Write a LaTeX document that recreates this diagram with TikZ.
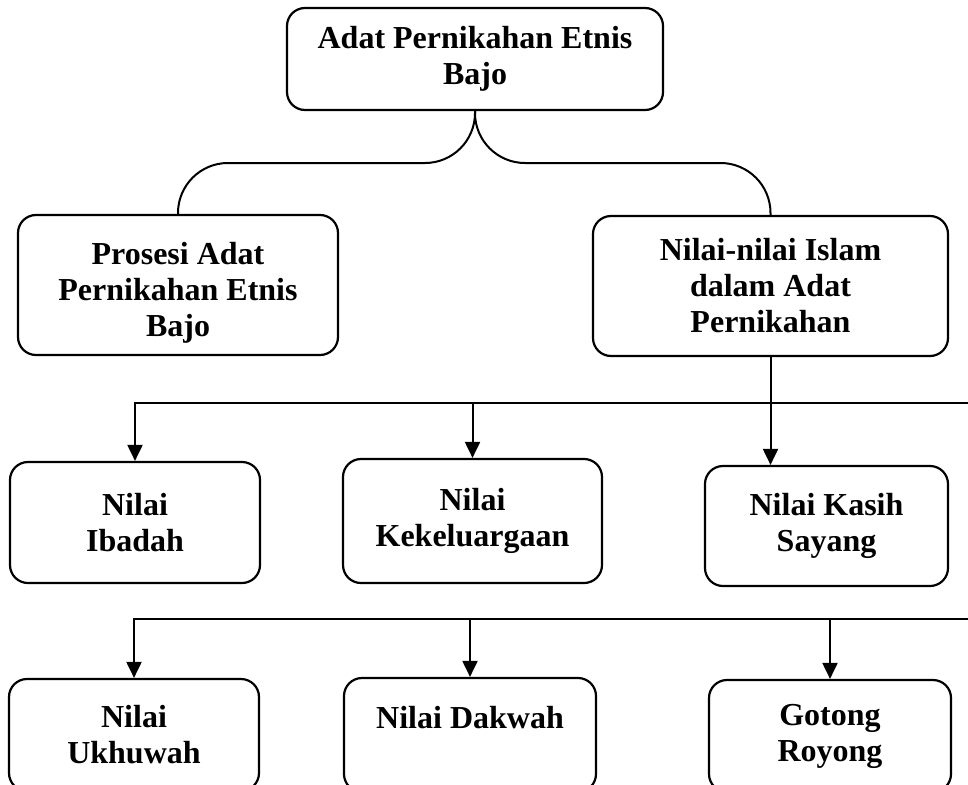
\documentclass[tikz,border=0pt]{standalone}
\usepackage{fontspec}
\setmainfont{Liberation Serif}
\usetikzlibrary{arrows.meta}

\begin{document}
\begin{tikzpicture}[x=1pt,y=-1pt,line width=2pt,
    box/.style={draw,line width=2.2pt,rounded corners=18pt,inner sep=0pt,align=center,
      font=\fontsize{32}{36}\selectfont\bfseries},
    arr/.style={-{Triangle[width=15pt,length=16pt]}}]
  \useasboundingbox (0,0) rectangle (968,784);
  \clip (0,0) rectangle (968,784);
  \fill[white] (0,0) rectangle (968,784);

  \node[box,minimum width=376pt,minimum height=102pt] (adat) at (475,59) {Adat Pernikahan Etnis\\Bajo};
  \node[box,minimum width=320pt,minimum height=140pt,text height=110pt] (prosesi) at (178,285) {Prosesi Adat\\Pernikahan Etnis\\Bajo};
  \node[box,minimum width=355pt,minimum height=140pt] (islam) at (770.5,286) {Nilai-nilai Islam\\dalam Adat\\Pernikahan};

  \node[box,minimum width=250pt,minimum height=121pt] (ibadah) at (135,522.5) {Nilai\\Ibadah};
  \node[box,minimum width=259pt,minimum height=124pt] (kekel) at (472.5,521) {Nilai\\Kekeluargaan};
  \node[box,minimum width=243pt,minimum height=120pt] (kasih) at (826.5,526) {Nilai Kasih\\Sayang};

  \node[box,minimum width=250pt,minimum height=112pt] (ukhuwah) at (134,735) {Nilai\\Ukhuwah};
  \node[box,minimum width=252pt,minimum height=114pt] (dakwah) at (470,735) {Nilai Dakwah\\ \mbox{}};
  \node[box,minimum width=242pt,minimum height=112pt] (gotong) at (830,736) {Gotong\\Royong};

  \coordinate (split) at (adat.south |- 0,163);
  \coordinate (bus1) at (968,403);
  \coordinate (bus2) at (968,619);

  \draw[rounded corners=50pt] (adat.south) -- (split) -| (prosesi.north);
  \draw[rounded corners=50pt] (adat.south) -- (split) -| (islam.north);

  \draw[arr] (bus1) -| (ibadah.north);
  \draw[arr] (bus1 -| kekel.north) -- (kekel.north);
  \draw[arr] (islam.south) -- (islam.south |- kasih.north);

  \draw[arr] (bus2) -| (ukhuwah.north);
  \draw[arr] (bus2 -| dakwah.north) -- (dakwah.north);
  \draw[arr] (bus2 -| gotong.north) -- (gotong.north);
\end{tikzpicture}
\end{document}
